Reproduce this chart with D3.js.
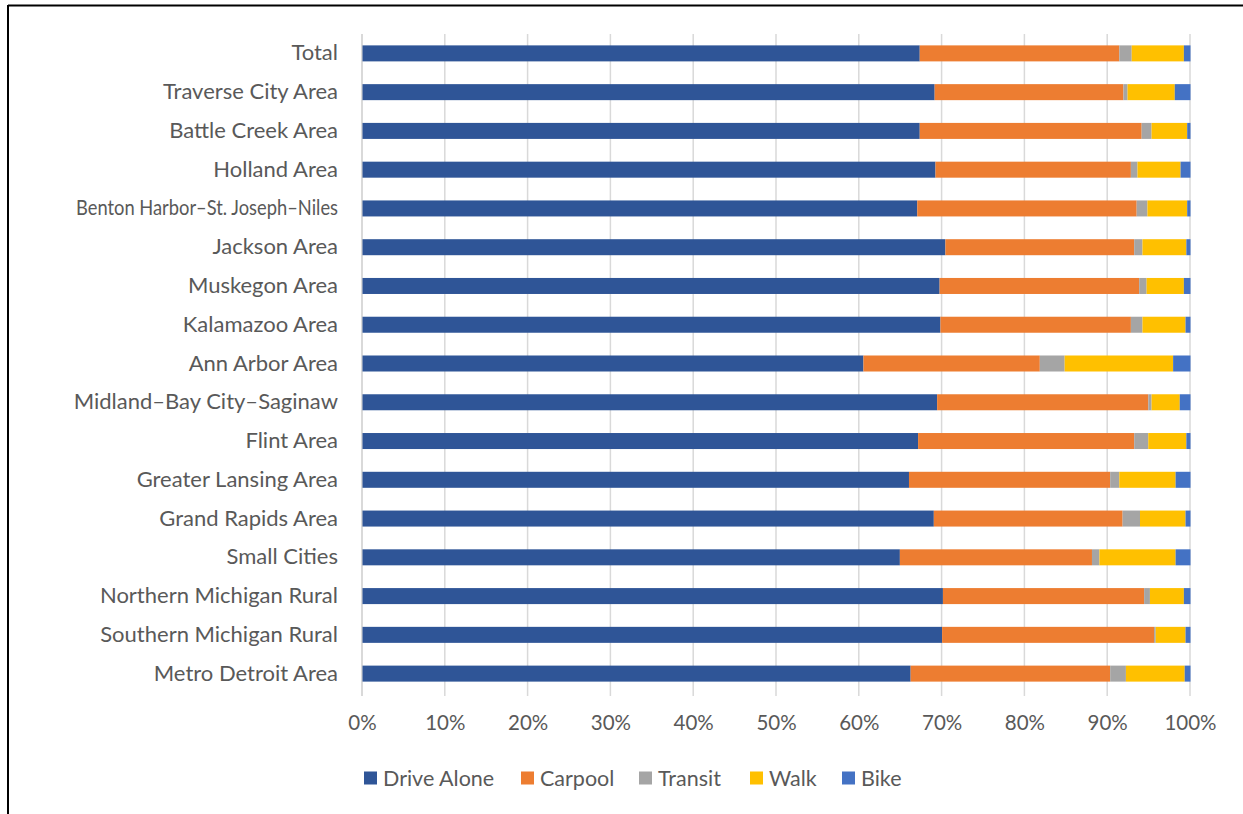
<!DOCTYPE html>
<html>
<head>
<meta charset="utf-8">
<script src="https://cdn.jsdelivr.net/npm/d3@7"></script>
<style>
  html, body { margin: 0; padding: 0; background: #fff; }
  svg { display: block; }
  text { font-family: Lato, "Noto Sans", sans-serif; fill: #595959; }
</style>
</head>
<body>
<svg id="chart" width="1243" height="814"></svg>
<script>
const categories = [
  "Total", "Traverse City Area", "Battle Creek Area", "Holland Area",
  "Benton Harbor–St. Joseph–Niles", "Jackson Area", "Muskegon Area",
  "Kalamazoo Area", "Ann Arbor Area", "Midland–Bay City–Saginaw",
  "Flint Area", "Greater Lansing Area", "Grand Rapids Area", "Small Cities",
  "Northern Michigan Rural", "Southern Michigan Rural", "Metro Detroit Area"
];
const seriesNames = ["Drive Alone", "Carpool", "Transit", "Walk", "Bike"];
const driveAlone = [67.3, 69.1, 67.3, 69.2, 67.0, 70.4, 69.7, 69.8, 60.5, 69.4, 67.1, 66.0, 69.0, 64.9, 70.1, 70.0, 66.2];
const carpool    = [24.1, 22.8, 26.8, 23.6, 26.5, 22.8, 24.1, 23.0, 21.3, 25.5, 26.1, 24.3, 22.8, 23.2, 24.3, 25.6, 24.1];
const transit    = [1.5, 0.5, 1.2, 0.8, 1.3, 1.0, 0.9, 1.4, 3.0, 0.4, 1.7, 1.1, 2.1, 0.9, 0.7, 0.2, 1.9];
const walk       = [6.3, 5.7, 4.3, 5.2, 4.8, 5.3, 4.5, 5.2, 13.1, 3.4, 4.6, 6.8, 5.5, 9.2, 4.1, 3.6, 7.1];
const bike       = [0.8, 1.9, 0.4, 1.2, 0.4, 0.5, 0.8, 0.6, 2.1, 1.3, 0.5, 1.8, 0.6, 1.8, 0.8, 0.6, 0.7];
const tickValues = [0, 0.1, 0.2, 0.3, 0.4, 0.5, 0.6, 0.7, 0.8, 0.9, 1.0];
const colors = ["#2F5597", "#ED7D31", "#A5A5A5", "#FFC000", "#4472C4"];

const seriesArrays = [driveAlone, carpool, transit, walk, bike];
const rows = categories.map((c, i) => {
  const r = { category: c };
  const tot = seriesArrays.reduce((s, a) => s + a[i], 0);
  seriesNames.forEach((n, k) => r[n] = seriesArrays[k][i] / tot);
  return r;
});

const svg = d3.select("#chart");
const x = d3.scaleLinear().domain([0, 1]).range([362, 1190]);
const y = d3.scaleBand().domain(categories).range([34, 693]).paddingInner(0.587).paddingOuter(0.2935);

// frame
svg.append("line").attr("x1", 8).attr("x2", 1243).attr("y1", 5.5).attr("y2", 5.5).attr("stroke", "#000").attr("stroke-width", 2);
svg.append("line").attr("x1", 8).attr("x2", 8).attr("y1", 5).attr("y2", 814).attr("stroke", "#000").attr("stroke-width", 2);

// gridlines
svg.append("g").selectAll("line").data(tickValues).join("line")
  .attr("x1", d => x(d)).attr("x2", d => x(d))
  .attr("y1", 34).attr("y2", 696)
  .attr("stroke", "#d9d9d9").attr("stroke-width", d => d === 0 ? 2 : 1.5);

// bars
const stack = d3.stack().keys(seriesNames)(rows);
svg.append("g").selectAll("g").data(stack).join("g")
  .attr("fill", (d, i) => colors[i])
  .selectAll("rect").data(d => d).join("rect")
  .attr("x", d => x(d[0]) + 0.5)
  .attr("width", d => Math.max(0, x(d[1]) - x(d[0])))
  .attr("y", d => y(d.data.category))
  .attr("height", y.bandwidth());

// x axis labels
const xAxis = d3.axisBottom(x).tickValues(tickValues).tickFormat(d3.format(".0%")).tickSize(0).tickPadding(0);
const gx = svg.append("g").attr("transform", "translate(0,715)").call(xAxis);
gx.select(".domain").remove();
gx.selectAll("text").attr("font-size", 20.5).attr("fill", "#595959").attr("font-family", "Lato, 'Noto Sans', sans-serif").attr("dy", "0.71em");

// y axis labels
const yAxis = d3.axisLeft(y).tickSize(0).tickPadding(0);
const gy = svg.append("g").attr("transform", "translate(338,0)").call(yAxis);
gy.select(".domain").remove();
gy.selectAll("text").attr("font-size", 22).attr("fill", "#595959").attr("font-family", "Lato, 'Noto Sans', sans-serif")
  .each(function() {
    const w = this.getComputedTextLength();
    if (w > 270) {
      d3.select(this).attr("font-size", 20.5).attr("textLength", 262).attr("lengthAdjust", "spacingAndGlyphs");
    }
  });

// legend
const legendX = [364, 521, 639, 750, 842];
const lg = svg.append("g").selectAll("g").data(seriesNames).join("g")
  .attr("transform", (d, i) => `translate(${legendX[i]},778)`);
lg.append("rect").attr("x", 0).attr("y", -6.5).attr("width", 13).attr("height", 13).attr("fill", (d, i) => colors[i]);
lg.append("text").attr("x", 19).attr("y", 0).attr("dy", "0.35em").attr("font-size", 21.5).text(d => d);
</script>
</body>
</html>
